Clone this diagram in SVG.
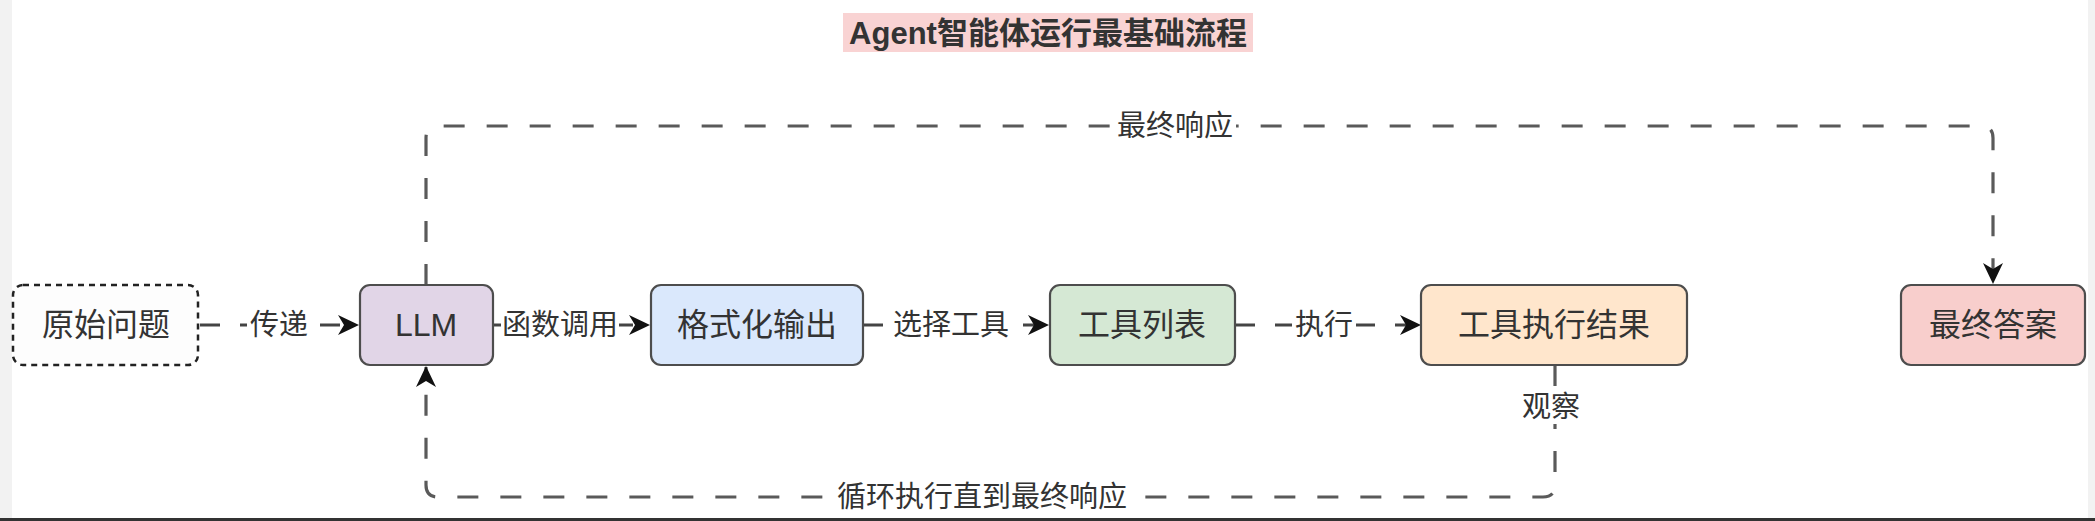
<svg xmlns="http://www.w3.org/2000/svg" width="2095" height="521" viewBox="0 0 2095 521">
<defs>
<style>
.node rect{stroke:#4d4d4d;stroke-width:2.2}
.lbl{font-family:"Liberation Sans","Noto Sans CJK SC",sans-serif;font-size:32px;fill:#333;text-anchor:middle;dominant-baseline:central}
.elbl{font-family:"Liberation Sans","Noto Sans CJK SC",sans-serif;font-size:29px;fill:#333;text-anchor:middle;dominant-baseline:central}
.edge{fill:none;stroke:#444;stroke-width:3;stroke-dasharray:20 20}
.loop{fill:none;stroke:#5a5a5a;stroke-width:3.2;stroke-dasharray:21 22}
.lbg{fill:#ffffff}
</style>
<marker id="arr" markerUnits="userSpaceOnUse" markerWidth="22" markerHeight="22" viewBox="0 0 22 22" refX="20" refY="11" orient="auto">
<path d="M0,1 L21,11 L0,21 L6,11 Z" fill="#111"/>
</marker>
</defs>
<rect x="0" y="0" width="2095" height="521" fill="#ffffff"/>
<rect x="0" y="0" width="12" height="521" fill="#f2f2f2"/>
<rect x="2088" y="0" width="7" height="521" fill="#f2f2f2"/>
<rect x="0" y="518" width="2095" height="3" fill="#333"/>

<g id="title">
<rect x="843" y="13" width="410" height="39" fill="#f9d3d3"/>
<text x="1048" y="33" font-family="'Liberation Sans','Noto Sans CJK SC',sans-serif" font-size="31" font-weight="bold" fill="#333" text-anchor="middle" dominant-baseline="central">Agent智能体运行最基础流程</text>
</g>

<g id="connectors">
<path class="edge" d="M200,325 L358,325" marker-end="url(#arr)"/>
<path class="edge" d="M493,325 L649,325" marker-end="url(#arr)"/>
<path class="edge" d="M863,325 L1048,325" marker-end="url(#arr)"/>
<path class="edge" d="M1235,325 L1420,325" marker-end="url(#arr)"/>
<path class="loop" d="M426,285 L426,138 Q426,126 438,126 L1981,126 Q1993,126 1993,138 L1993,283" marker-end="url(#arr)"/>
<path class="loop" d="M1555,365 L1555,485 Q1555,497 1543,497 L438,497 Q426,497 426,485 L426,367" marker-end="url(#arr)"/>
<rect class="lbg" x="247" y="308" width="64" height="34"/>
<text class="elbl" x="279" y="325">传递</text>
<rect class="lbg" x="501" y="308" width="118" height="34"/>
<text class="elbl" x="560" y="325">函数调用</text>
<rect class="lbg" x="891" y="308" width="120" height="34"/>
<text class="elbl" x="951" y="325">选择工具</text>
<rect class="lbg" x="1292" y="308" width="64" height="34"/>
<text class="elbl" x="1324" y="325">执行</text>
<rect class="lbg" x="1114" y="109" width="122" height="34"/>
<text class="elbl" x="1175" y="126">最终响应</text>
<rect class="lbg" x="1519" y="390" width="64" height="34"/>
<text class="elbl" x="1551" y="407">观察</text>
<rect class="lbg" x="833" y="480" width="298" height="34"/>
<text class="elbl" x="982" y="497">循环执行直到最终响应</text>
</g>

<g id="node-question" class="node">
<rect x="13" y="285" width="185" height="80" rx="10" fill="#fdfdfd" style="stroke:#222;stroke-width:2.5;stroke-dasharray:6 5"/>
<text class="lbl" x="106" y="325">原始问题</text>
</g>
<g id="node-llm" class="node">
<rect x="360" y="285" width="133" height="80" rx="10" fill="#e1d5e7"/>
<text class="lbl" x="426" y="325">LLM</text>
</g>
<g id="node-format" class="node">
<rect x="651" y="285" width="212" height="80" rx="10" fill="#dae8fc"/>
<text class="lbl" x="757" y="325">格式化输出</text>
</g>
<g id="node-tools" class="node">
<rect x="1050" y="285" width="185" height="80" rx="10" fill="#d5e8d4"/>
<text class="lbl" x="1142" y="325">工具列表</text>
</g>
<g id="node-result" class="node">
<rect x="1421" y="285" width="266" height="80" rx="10" fill="#ffe6cc"/>
<text class="lbl" x="1554" y="325">工具执行结果</text>
</g>
<g id="node-answer" class="node">
<rect x="1901" y="285" width="184" height="80" rx="10" fill="#f8cecc"/>
<text class="lbl" x="1993" y="325">最终答案</text>
</g>
</svg>
